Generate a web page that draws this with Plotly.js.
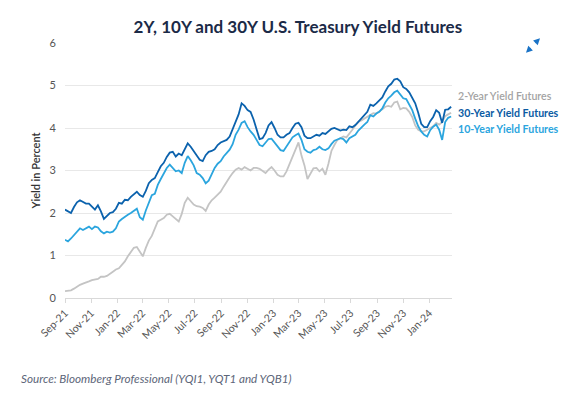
<!DOCTYPE html>
<html>
<head>
<meta charset="utf-8">
<script src="https://cdn.plot.ly/plotly-3.0.1.min.js"></script>
<style>
  html, body { margin: 0; padding: 0; background: #ffffff; }
  #chart { width: 584px; height: 399px; }
</style>
</head>
<body>
<div id="chart"></div>
<script>
// Weekly observations starting 2021-09-01
const startDate = '2021-09-01';
const nWeeks = 130;

const yield2Y = [
  0.16, 0.17, 0.18, 0.22, 0.27, 0.31, 0.34, 0.36, 0.39, 0.42, 0.44, 0.45, 0.50, 0.50, 0.52, 0.56,
  0.62, 0.67, 0.70, 0.78, 0.86, 0.98, 1.08, 1.18, 1.20, 1.10, 0.98, 1.18, 1.35, 1.46, 1.64, 1.80,
  1.84, 1.88, 1.96, 1.98, 1.92, 1.86, 1.80, 1.98, 2.24, 2.36, 2.28, 2.20, 2.16, 2.15, 2.12, 2.05,
  2.20, 2.30, 2.36, 2.42, 2.50, 2.62, 2.74, 2.84, 2.94, 3.02, 3.06, 3.02, 3.08, 3.04, 3.00, 3.06,
  3.06, 3.04, 2.98, 2.94, 3.02, 3.08, 3.00, 2.90, 2.86, 2.86, 2.98, 3.16, 3.34, 3.48, 3.66, 3.35,
  3.12, 2.80, 2.92, 3.05, 3.06, 2.98, 3.04, 2.90, 3.16, 3.46, 3.60, 3.72, 3.76, 3.80, 3.78, 3.86,
  3.96, 4.06, 4.14, 4.18, 4.22, 4.27, 4.31, 4.35, 4.34, 4.38, 4.44, 4.50, 4.52, 4.50, 4.60, 4.62,
  4.44, 4.47, 4.46, 4.38, 4.26, 4.06, 3.96, 3.92, 3.92, 3.96, 4.00, 4.04, 4.12, 4.08, 4.14, 4.28,
  4.32, 4.36
];

const yield30Y = [
  2.08, 2.04, 2.00, 2.14, 2.25, 2.30, 2.26, 2.22, 2.22, 2.14, 2.08, 2.18, 2.04, 1.86, 1.94, 2.00,
  2.02, 2.10, 2.24, 2.22, 2.31, 2.30, 2.38, 2.45, 2.50, 2.42, 2.38, 2.52, 2.70, 2.78, 2.82, 2.96,
  3.10, 3.18, 3.32, 3.42, 3.44, 3.33, 3.40, 3.36, 3.52, 3.64, 3.56, 3.45, 3.33, 3.25, 3.22, 3.36,
  3.44, 3.46, 3.50, 3.60, 3.66, 3.69, 3.72, 3.80, 3.98, 4.18, 4.32, 4.58, 4.52, 4.42, 4.38, 4.20,
  3.98, 3.74, 3.76, 3.88, 4.06, 4.14, 4.00, 3.84, 3.78, 3.78, 3.84, 3.88, 4.00, 4.10, 4.12, 4.02,
  3.82, 3.76, 3.76, 3.80, 3.84, 3.82, 3.88, 3.86, 3.92, 3.98, 4.00, 3.96, 3.94, 3.96, 3.95, 4.04,
  4.02, 4.07, 4.15, 4.24, 4.32, 4.38, 4.55, 4.52, 4.58, 4.64, 4.72, 4.86, 4.98, 5.04, 5.14, 5.16,
  5.10, 4.96, 4.92, 4.84, 4.70, 4.58, 4.36, 4.10, 4.02, 4.02, 4.16, 4.26, 4.42, 4.36, 4.12, 4.43,
  4.44, 4.50
];

const yield10Y = [
  1.37, 1.33, 1.40, 1.48, 1.58, 1.64, 1.60, 1.64, 1.68, 1.62, 1.68, 1.66, 1.57, 1.52, 1.56, 1.54,
  1.56, 1.64, 1.80, 1.86, 1.92, 1.96, 2.00, 2.06, 2.10, 1.90, 1.84, 2.06, 2.25, 2.42, 2.45, 2.66,
  2.80, 2.94, 3.06, 3.14, 3.06, 2.98, 3.00, 2.94, 3.18, 3.34, 3.24, 3.12, 2.94, 2.90, 2.82, 2.70,
  2.76, 2.92, 3.06, 3.16, 3.22, 3.33, 3.41, 3.49, 3.62, 3.84, 3.96, 4.12, 4.16, 4.02, 3.92, 3.84,
  3.72, 3.60, 3.57, 3.66, 3.74, 3.75, 3.66, 3.55, 3.48, 3.46, 3.56, 3.68, 3.78, 3.83, 3.87, 3.72,
  3.50, 3.44, 3.42, 3.48, 3.50, 3.56, 3.50, 3.48, 3.52, 3.62, 3.70, 3.73, 3.76, 3.74, 3.66, 3.76,
  3.80, 3.84, 3.94, 4.02, 4.08, 4.14, 4.30, 4.27, 4.34, 4.38, 4.46, 4.60, 4.70, 4.76, 4.84, 4.88,
  4.78, 4.70, 4.68, 4.56, 4.42, 4.22, 4.04, 3.92, 3.84, 3.80, 3.95, 4.03, 4.08, 3.96, 3.72, 4.14,
  4.24, 4.27
];

const seriesNames = ['2-Year Yield Futures', '30-Year Yield Futures', '10-Year Yield Futures'];
const seriesColors = ['#c4c4c4', '#0b62ad', '#2ba5de'];
const labelColors = ['#a3a3a3', '#0b5ba3', '#2ba5de'];

const dates = [];
{
  const d0 = new Date(startDate + 'T00:00:00Z');
  for (let i = 0; i < nWeeks; i++) {
    const d = new Date(d0.getTime() + i * 7 * 86400000);
    dates.push(d.toISOString().slice(0, 10));
  }
}

const seriesValues = [yield2Y, yield30Y, yield10Y];
const traces = seriesValues.map((vals, k) => ({
  type: 'scatter',
  mode: 'lines',
  name: seriesNames[k],
  x: dates,
  y: vals,
  line: { color: seriesColors[k], width: 1.8 },
  hoverinfo: 'x+y+name'
}));

const FONT = 'Lato, "Open Sans", sans-serif';
const legendY = [0.792, 0.7255, 0.6627];

const annotations = seriesNames.map((n, k) => ({
  xref: 'paper', yref: 'paper', x: 1.01, y: legendY[k],
  xanchor: 'left', yanchor: 'middle', showarrow: false,
  text: n,
  font: { family: FONT, size: 10.6, color: labelColors[k], weight: k === 0 ? 600 : 700 }
}));

// source note
annotations.push({
  xref: 'paper', yref: 'paper', x: -0.119, y: -0.314,
  xanchor: 'left', yanchor: 'middle', showarrow: false,
  text: '<i>Source: Bloomberg Professional (YQI1, YQT1 and YQB1)</i>',
  font: { family: FONT, size: 11.7, color: '#5d6679' }
});

// expand icon (two small arrows with a gap between them)
annotations.push({
  xref: 'paper', yref: 'paper', x: 1.2274, y: 1.0184, ax: -6, ay: 6,
  text: '', showarrow: true, arrowhead: 2, arrowsize: 1, arrowwidth: 1.3, arrowcolor: '#1a73c6'
});
annotations.push({
  xref: 'paper', yref: 'paper', x: 1.1912, y: 0.962, ax: 6, ay: -6,
  text: '', showarrow: true, arrowhead: 2, arrowsize: 1, arrowwidth: 1.3, arrowcolor: '#1a73c6'
});

const layout = {
  width: 584,
  height: 399,
  margin: { l: 65, r: 132, t: 43, b: 101 },
  paper_bgcolor: '#ffffff',
  plot_bgcolor: '#ffffff',
  showlegend: false,
  font: { family: FONT, color: '#555555' },
  title: {
    text: '<b>2Y, 10Y and 30Y U.S. Treasury Yield Futures</b>',
    font: { family: FONT, size: 17, color: '#1b2a47' },
    xref: 'container', yref: 'container', x: 0.51, y: 0.932,
    xanchor: 'center', yanchor: 'middle'
  },
  xaxis: {
    type: 'date',
    range: ['2021-09-01', '2024-02-23'],
    tick0: '2021-09-01',
    dtick: 'M2',
    tickformat: '%b-%y',
    tickangle: -45,
    showgrid: false,
    zeroline: false,
    showline: true,
    linecolor: '#d9d9d9',
    linewidth: 1,
    ticks: 'outside',
    ticklen: 4,
    tickcolor: '#d9d9d9',
    tickfont: { family: FONT, size: 10.5, color: '#555555' },
    fixedrange: true
  },
  yaxis: {
    range: [0, 6],
    dtick: 1,
    showgrid: true,
    gridcolor: '#e8e8e8',
    gridwidth: 1,
    zeroline: false,
    showline: false,
    ticks: '',
    ticklabelstandoff: 8,
    tickfont: { family: FONT, size: 11, color: '#555555' },
    title: {
      text: 'Yield in Percent',
      font: { family: FONT, size: 11, color: '#333333', weight: 600 },
      standoff: 6
    },
    fixedrange: true
  },
  annotations: annotations
};

Plotly.newPlot('chart', traces, layout, { displayModeBar: false });
</script>
</body>
</html>
